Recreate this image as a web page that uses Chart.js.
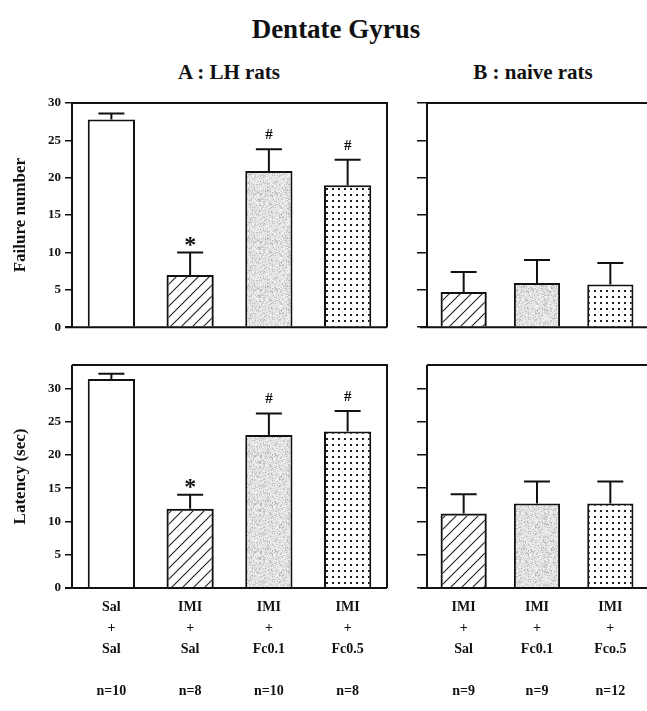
<!DOCTYPE html>
<html>
<head>
<meta charset="utf-8">
<script src="https://cdn.jsdelivr.net/npm/chart.js@4/dist/chart.umd.min.js"></script>
<style>
  body { margin: 0; width: 647px; height: 711px; overflow: hidden; background: #fff; position: relative;
         font-family: "Liberation Serif", "DejaVu Serif", serif; color: #111; }
  .t { position: absolute; font-weight: bold; white-space: nowrap; transform: translateX(-50%); }
  canvas { position: absolute; }
</style>
</head>
<body>
<div class="t" style="left:336px; top:14px; font-size:27px;">Dentate Gyrus</div>
<div class="t" style="left:229px; top:60px; font-size:21px;">A : LH rats</div>
<div class="t" style="left:533px; top:60px; font-size:21px;">B : naive rats</div>

<canvas id="failA" width="400" height="249" style="left:0; top:90px;"></canvas>
<canvas id="failB" width="247" height="249" style="left:400px; top:90px;"></canvas>
<canvas id="latA" width="400" height="359" style="left:0; top:352px;"></canvas>
<canvas id="latB" width="247" height="359" style="left:400px; top:352px;"></canvas>

<script>
// Groupes (traitement + dose) et effectifs
const groupesA = [['Sal', 'Sal'], ['IMI', 'Sal'], ['IMI', 'Fc0.1'], ['IMI', 'Fc0.5']];
const effectifsA = ['n=10', 'n=8', 'n=10', 'n=8'];
const groupesB = [['IMI', 'Sal'], ['IMI', 'Fc0.1'], ['IMI', 'Fco.5']];
const effectifsB = ['n=9', 'n=9', 'n=12'];

// Nombre d'échecs (moyenne, erreur)
const echecsA = [27.8, 7.0, 20.9, 19.0];
const echecsAErr = [0.8, 3.0, 2.9, 3.4];
const echecsB = [4.7, 5.9, 5.7];
const echecsBErr = [2.7, 3.1, 2.9];

// Latence en secondes (moyenne, erreur)
const latenceA = [31.4, 11.9, 23.0, 23.5];
const latenceAErr = [0.8, 2.1, 3.2, 3.1];
const latenceB = [11.2, 12.7, 12.7];
const latenceBErr = [2.9, 3.3, 3.3];

// Signes de significativité
const signesA = ['', '*', '#', '#'];
const signesB = ['', '', ''];

const ticksY = [0, 5, 10, 15, 20, 25, 30];

const POLICE = '"Liberation Serif", "DejaVu Serif", serif';
const NOIR = '#111';

// Motifs de remplissage
function motifHachures() {
    const c = document.createElement('canvas');
    c.width = 11; c.height = 11;
    const g = c.getContext('2d');
    g.strokeStyle = '#222';
    g.lineWidth = 1.1;
    g.beginPath();
    g.moveTo(-1, 12); g.lineTo(12, -1);
    g.moveTo(-6, 6); g.lineTo(6, -6);
    g.moveTo(5, 17); g.lineTo(17, 5);
    g.stroke();
    return g.createPattern(c, 'repeat');
}

function motifGris() {
    const c = document.createElement('canvas');
    c.width = 48; c.height = 48;
    const g = c.getContext('2d');
    g.fillStyle = '#e0e0e0';
    g.fillRect(0, 0, 48, 48);
    let s = 12345;
    for (let y = 0; y < 48; y++) {
        for (let x = 0; x < 48; x++) {
            s = (s * 1103515245 + 12345) & 0x7fffffff;
            const r = (s >> 8) % 100;
            if (r < 16) { g.fillStyle = '#bababa'; g.fillRect(x, y, 1, 1); }
            else if (r < 40) { g.fillStyle = '#f3f3f3'; g.fillRect(x, y, 1, 1); }
        }
    }
    return g.createPattern(c, 'repeat');
}

function motifPoints() {
    const c = document.createElement('canvas');
    c.width = 6; c.height = 6;
    const g = c.getContext('2d');
    g.fillStyle = '#fff';
    g.fillRect(0, 0, 6, 6);
    g.fillStyle = '#222';
    g.fillRect(2, 2, 2, 2);
    return g.createPattern(c, 'repeat');
}

const remplissagesA = ['#ffffff', motifHachures(), motifGris(), motifPoints()];
const remplissagesB = [motifHachures(), motifGris(), motifPoints()];

// Cadre, barres d'erreur et signes
const decorPlugin = {
    id: 'decor',
    afterDatasetsDraw(chart, args, opts) {
        const ctx = chart.ctx;
        const a = chart.chartArea;
        const yScale = chart.scales.y;
        const meta = chart.getDatasetMeta(0);
        const ds = chart.data.datasets[0];

        ctx.save();
        ctx.strokeStyle = NOIR;
        ctx.lineWidth = 2;
        ctx.beginPath();
        ctx.moveTo(a.left, a.top); ctx.lineTo(a.right + 1, a.top);
        if (opts.droite) { ctx.moveTo(a.right, a.top); ctx.lineTo(a.right, a.bottom); }
        ctx.moveTo(a.left, a.top); ctx.lineTo(a.left, a.bottom);
        ctx.moveTo(a.left - 7, a.bottom); ctx.lineTo(a.right, a.bottom);
        ctx.stroke();

        meta.data.forEach((bar, i) => {
            const yTop = yScale.getPixelForValue(ds.data[i]);
            const yCap = yScale.getPixelForValue(ds.data[i] + opts.erreurs[i]);
            ctx.lineWidth = 2;
            ctx.beginPath();
            ctx.moveTo(bar.x, yTop);
            ctx.lineTo(bar.x, yCap);
            ctx.moveTo(bar.x - 13, yCap);
            ctx.lineTo(bar.x + 13, yCap);
            ctx.stroke();
            const s = opts.signes[i];
            if (s) {
                ctx.fillStyle = NOIR;
                ctx.textAlign = 'center';
                ctx.textBaseline = 'middle';
                ctx.font = s === '*' ? 'bold 24px ' + POLICE : 'bold 15px ' + POLICE;
                ctx.fillText(s, bar.x, yCap - (s === '*' ? 7 : 14));
            }
        });
        ctx.restore();
    }
};

function creerPanneau(id, cfg) {
    const gauche = cfg.gauche;
    return new Chart(document.getElementById(id), {
        type: 'bar',
        data: {
            labels: cfg.labels,
            datasets: [{
                data: cfg.valeurs,
                backgroundColor: cfg.remplissages,
                borderColor: NOIR,
                borderWidth: 2,
                borderSkipped: 'bottom',
                barPercentage: gauche ? 0.6 : 0.63,
                categoryPercentage: 1
            }]
        },
        options: {
            responsive: false,
            animation: false,
            events: [],
            layout: { padding: { top: 13, right: gauche ? 13 : 0, bottom: cfg.axeX ? 0 : 8, left: 0 } },
            plugins: {
                legend: { display: false },
                tooltip: { enabled: false },
                decor: { erreurs: cfg.erreurs, signes: cfg.signes, droite: gauche }
            },
            scales: {
                x: {
                    display: cfg.axeX,
                    grid: { display: false, drawTicks: false },
                    border: { display: false },
                    ticks: {
                        color: NOIR,
                        padding: 9,
                        maxRotation: 0,
                        autoSkip: false,
                        font: { family: POLICE, size: 14, weight: 'bold', lineHeight: 1.5 }
                    },
                    afterFit(scale) { scale.height = cfg.axeX ? 123 : 0; }
                },
                y: {
                    min: 0,
                    max: cfg.max,
                    afterBuildTicks(scale) { scale.ticks = ticksY.map(v => ({ value: v })); },
                    grid: { drawOnChartArea: false, drawTicks: true, tickLength: gauche ? 7 : 10, color: NOIR, lineWidth: 1.5 },
                    border: { display: false },
                    ticks: {
                        color: NOIR,
                        padding: 4,
                        autoSkip: false,
                        font: { family: POLICE, size: 13, weight: 'bold' },
                        callback: v => gauche ? v : ''
                    },
                    title: {
                        display: gauche,
                        text: cfg.titre,
                        color: NOIR,
                        padding: { top: 10, bottom: 0 },
                        font: { family: POLICE, size: 17, weight: 'bold' }
                    },
                    afterFit(scale) { scale.width = gauche ? 72 : 27; }
                }
            }
        },
        plugins: [decorPlugin]
    });
}

const etiquettes = (groupes, effectifs) => groupes.map((g, i) => [g[0], '+', g[1], '', effectifs[i]]);

creerPanneau('failA', {
    gauche: true, axeX: false, max: 30, titre: 'Failure number',
    labels: groupesA.map(g => g.join('+')), valeurs: echecsA, erreurs: echecsAErr,
    signes: signesA, remplissages: remplissagesA
});
creerPanneau('failB', {
    gauche: false, axeX: false, max: 30, titre: '',
    labels: groupesB.map(g => g.join('+')), valeurs: echecsB, erreurs: echecsBErr,
    signes: signesB, remplissages: remplissagesB
});
creerPanneau('latA', {
    gauche: true, axeX: true, max: 33.5, titre: 'Latency (sec)',
    labels: etiquettes(groupesA, effectifsA), valeurs: latenceA, erreurs: latenceAErr,
    signes: signesA, remplissages: remplissagesA
});
creerPanneau('latB', {
    gauche: false, axeX: true, max: 33.5, titre: '',
    labels: etiquettes(groupesB, effectifsB), valeurs: latenceB, erreurs: latenceBErr,
    signes: signesB, remplissages: remplissagesB
});
</script>
</body>
</html>
